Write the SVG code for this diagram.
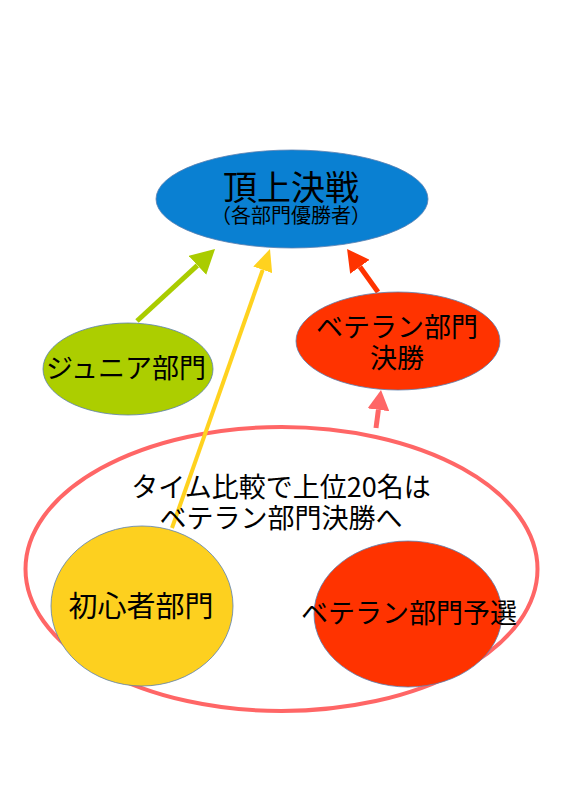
<svg xmlns="http://www.w3.org/2000/svg" width="566" height="800" viewBox="0 0 566 800">
<style>
.n{stroke:#5a7fb0;stroke-width:0.8}
.t{font-family:"Noto Sans CJK JP","Noto Sans",sans-serif;fill:#000;text-anchor:middle}
.c{fill:none}
</style>
<defs>
<marker id="mg" markerUnits="userSpaceOnUse" markerWidth="24" markerHeight="26" viewBox="0 0 24 26" refX="0" refY="13" orient="auto"><path d="M0,0 L24,13 L0,26 z" fill="#aacc00"/></marker>
<marker id="my" markerUnits="userSpaceOnUse" markerWidth="22" markerHeight="20" viewBox="0 0 22 20" refX="0" refY="10" orient="auto"><path d="M0,0 L22,10 L0,20 z" fill="#ffd21f"/></marker>
<marker id="mr" markerUnits="userSpaceOnUse" markerWidth="22" markerHeight="24" viewBox="0 0 22 24" refX="0" refY="12" orient="auto"><path d="M0,0 L22,12 L0,24 z" fill="#ff3300"/></marker>
<marker id="mp" markerUnits="userSpaceOnUse" markerWidth="20" markerHeight="22" viewBox="0 0 20 22" refX="0" refY="11" orient="auto"><path d="M0,0 L20,11 L0,22 z" fill="#ff6666"/></marker>
</defs>
<rect width="566" height="800" fill="#fff"/>
<g id="group-outer">
<ellipse cx="281.5" cy="569" rx="256" ry="142" fill="none" stroke="#ff6666" stroke-width="4"/>
</g>
<g id="connectors">
<path class="c" d="M137,321 L197.4,265.3" stroke="#aacc00" stroke-width="5" marker-end="url(#mg)"/>
<path class="c" d="M172,528 L262.7,269.8" stroke="#ffd21f" stroke-width="4" marker-end="url(#my)"/>
<path class="c" d="M378,292 L359.9,266.8" stroke="#ff3300" stroke-width="5" marker-end="url(#mr)"/>
<path class="c" d="M376,428 L378.4,409.8" stroke="#ff6666" stroke-width="5" marker-end="url(#mp)"/>
</g>
<g id="final">
<ellipse class="n" cx="292" cy="199" rx="136" ry="49" fill="#0a80d2"/>
<text class="t" x="291" y="200" font-size="34">頂上決戦</text>
<text class="t" x="291" y="223" font-size="20">（各部門優勝者）</text>
</g>
<g id="junior">
<ellipse class="n" cx="128" cy="369" rx="85" ry="46" fill="#acce00"/>
<text class="t" x="126" y="378" font-size="27">ジュニア部門</text>
</g>
<g id="veteran-final">
<ellipse class="n" cx="398" cy="341" rx="102" ry="49" fill="#ff3300"/>
<text class="t" x="397" y="337" font-size="27">ベテラン部門</text>
<text class="t" x="397" y="368" font-size="27">決勝</text>
</g>
<g id="label">
<text class="t" x="281" y="497" font-size="27">タイム比較で上位20名は</text>
<text class="t" x="281" y="528" font-size="27">ベテラン部門決勝へ</text>
</g>
<g id="beginner">
<ellipse class="n" cx="142" cy="606" rx="91" ry="80" fill="#fdd01f"/>
<text class="t" x="141" y="617" font-size="29">初心者部門</text>
</g>
<g id="veteran-prelim">
<ellipse class="n" cx="408" cy="614" rx="94" ry="73" fill="#ff3300"/>
<text class="t" x="409" y="623" font-size="27">ベテラン部門予選</text>
</g>
</svg>
